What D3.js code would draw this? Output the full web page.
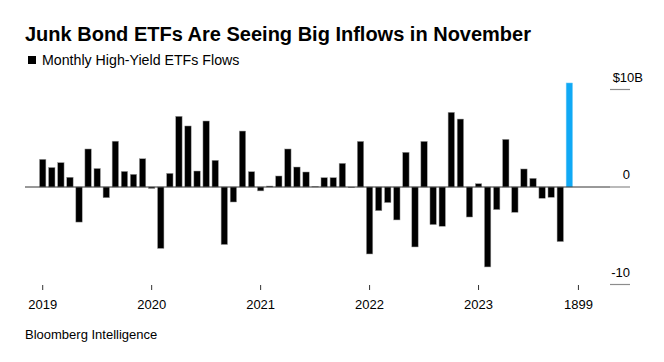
<!DOCTYPE html>
<html>
<head>
<meta charset="utf-8">
<script src="https://cdn.jsdelivr.net/npm/d3@7"></script>
<style>
  html, body { margin: 0; padding: 0; background: #fff; }
  svg { display: block; font-family: "Liberation Sans", Arial, Helvetica, sans-serif; }
</style>
</head>
<body>
<svg id="chart" width="664" height="362"></svg>
<script>
// ---- Data (USD billions, monthly, Jan 2019 – Nov 2023) ----
const months = d3.range(59).map(i => new Date(2019, i, 1));
const flows = [
  2.84, 2.0, 2.5, 1.0, -3.6, 3.9, 1.9, -1.1, 4.7, 1.6, 1.3, 2.9,
  -0.15, -6.3, 1.4, 7.25, 6.26, 1.64, 6.77, 2.74, -5.9, -1.54, 5.74, 1.57,
  -0.4, 0.1, 1.13, 3.9, 2.05, 1.54, 0.05, 0.96, 0.96, 2.43, -0.05, 4.68,
  -6.87, -2.43, -1.6, -3.38, 3.56, -6.15, 4.68, -3.86, -4.03, 7.66, 6.97, -3.08,
  0.34, -8.2, -2.32, 4.89, -2.6, 1.85, 0.89, -1.16, -1.06, -5.6, 10.67
];
const xTickIndex = [0, 12, 24, 36, 48, 59];
const xTickLabels = ["2019", "2020", "2021", "2022", "2023", "1899"];
const yTicks = [10, 0, -10];
const yTickLabels = ["$10B", "0", "-10"];

const title = "Junk Bond ETFs Are Seeing Big Inflows in November";
const legendLabel = "Monthly High-Yield ETFs Flows";
const source = "Bloomberg Intelligence";

// ---- Layout ----
const svg = d3.select("#chart");
const plotLeft = 25, plotRight = 630;

const x = d3.scaleLinear().domain([-1.95, 64.68]).range([plotLeft, plotRight]);
const y = d3.scaleLinear().domain([-10, 10]).range([284.5, 89.5]);
const barW = 6.4;
const highlightIndex = flows.length - 1;

// Title
svg.append("text").attr("x", 25).attr("y", 41)
  .attr("font-size", 20).attr("font-weight", "bold").attr("fill", "#000")
  .text(title);

// Legend
svg.append("rect").attr("x", 28).attr("y", 56).attr("width", 8).attr("height", 8).attr("fill", "#000");
svg.append("text").attr("x", 42).attr("y", 65).attr("font-size", 14.2).attr("fill", "#000").text(legendLabel);

// Y gridline stubs and labels
const yg = svg.append("g");
yg.selectAll("line").data(yTicks).join("line")
  .attr("x1", 610).attr("x2", plotRight)
  .attr("y1", d => y(d)).attr("y2", d => y(d))
  .attr("stroke", "#8c8c8c").attr("stroke-width", 1.2);
yg.selectAll("text").data(yTicks).join("text")
  .attr("x", (d, i) => i === 0 ? 643 : 630)
  .attr("y", d => y(d) - 8)
  .attr("text-anchor", "end")
  .attr("font-size", 13).attr("fill", "#000")
  .text((d, i) => yTickLabels[i]);

// Bars
svg.append("g").selectAll("rect").data(flows).join("rect")
  .attr("x", (d, i) => x(i) - barW / 2)
  .attr("width", barW)
  .attr("y", d => Math.min(y(d), y(0)))
  .attr("height", d => Math.abs(y(d) - y(0)))
  .attr("fill", (d, i) => i === highlightIndex ? "#10a9f5" : "#000")
  .attr("stroke", (d, i) => i === highlightIndex ? "#7fd0f8" : "#a0a0a0")
  .attr("stroke-width", 0.5);

// Zero line
svg.append("line").attr("x1", plotLeft).attr("x2", 610)
  .attr("y1", y(0)).attr("y2", y(0))
  .attr("stroke", "#333").attr("stroke-width", 1);

// X axis ticks and labels
const xg = svg.append("g");
xg.selectAll("line").data(xTickIndex).join("line")
  .attr("x1", d => x(d)).attr("x2", d => x(d))
  .attr("y1", 285).attr("y2", 290)
  .attr("stroke", "#333").attr("stroke-width", 1);
xg.selectAll("text").data(xTickIndex).join("text")
  .attr("x", d => x(d)).attr("y", 309)
  .attr("text-anchor", "middle").attr("font-size", 13).attr("fill", "#000")
  .text((d, i) => xTickLabels[i]);

// Source
svg.append("text").attr("x", 25).attr("y", 339)
  .attr("font-size", 13).attr("fill", "#000").text(source);
</script>
</body>
</html>
